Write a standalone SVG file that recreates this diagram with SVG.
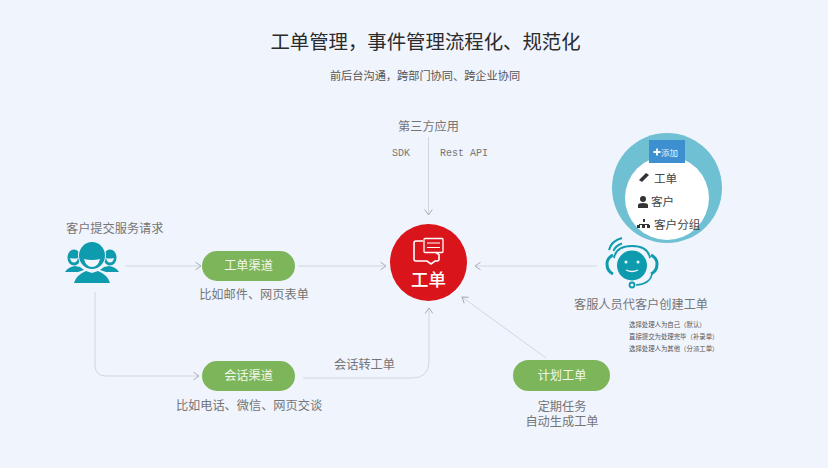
<svg xmlns="http://www.w3.org/2000/svg" width="828" height="468" viewBox="0 0 828 468">
<style>
text{font-family:"Noto Sans CJK SC","Liberation Sans",sans-serif;fill:#757575;font-size:12.2px}
.c{text-anchor:middle}
.pill{fill:#7db55b}
.pt{fill:#f2f7ec;font-size:12.2px;text-anchor:middle}
.conn{fill:none;stroke:#d2d6df;stroke-width:1}
.tiny{font-size:6.400px;fill:#555}
.teal{fill:#0e9bad}
.menu{font-size:11.600px;fill:#444}
</style>
<defs>
<marker id="arr" markerUnits="userSpaceOnUse" markerWidth="10" markerHeight="10" refX="7" refY="5" orient="auto"><path d="M1.500 1.200L7 5L1.500 8.800" fill="none" stroke="#a8acb5" stroke-width="1"/></marker>
</defs>
<rect width="828" height="468" fill="#f0f4fd"/>
<text id="title" class="c" x="425.500" y="49" style="font-size:19.400px;fill:#2b2b2b">工单管理&#xFF0C;事件管理流程化、规范化</text>
<text id="subtitle" class="c" x="425" y="80" style="font-size:11.200px;fill:#555">前后台沟通&#xFF0C;跨部门协同、跨企业协同</text>
<g id="connectors">
<path class="conn" marker-end="url(#arr)" d="M428.500 137V215"/>
<path class="conn" marker-end="url(#arr)" d="M125 266H201"/>
<path class="conn" marker-end="url(#arr)" d="M298 266H386"/>
<path class="conn" marker-end="url(#arr)" d="M95 292V365Q95 376 106 376H199"/>
<path class="conn" marker-end="url(#arr)" d="M303 378H412Q429 378 429 361V308"/>
<path class="conn" marker-end="url(#arr)" d="M597 266H475"/>
<path class="conn" marker-end="url(#arr)" d="M546 358L462 297"/>
</g>
<g id="third-party">
<text class="c" x="428.500" y="131">第三方应用</text>
<text x="392" y="156" style="font-family:'Liberation Mono',monospace;font-size:10px;fill:#777">SDK</text>
<text x="440" y="156" style="font-family:'Liberation Mono',monospace;font-size:10px;fill:#777">Rest API</text>
</g>
<g id="ticket">
<circle cx="428.500" cy="262.500" r="38.500" fill="#d9141b"/>
<path d="M423 241H416Q414 241 414 243V259Q414 261 416 261H427L431 264L435 261H437Q439 261 439 259V254" fill="none" stroke="#fff" stroke-width="1.600"/>
<rect x="424" y="238.500" width="19" height="14" rx="1" fill="#d9141b" stroke="#fff" stroke-width="1.300"/>
<path d="M427 243H440M427 247.500H440" stroke="#fff" stroke-width="1.200"/>
<path d="M435 252.500H440L437.500 255Z" fill="#fff"/>
<text class="c" x="428.500" y="286" style="font-size:17.500px;fill:#fff;font-weight:500">工单</text>
</g>
<g id="customer">
<text x="66" y="233">客户提交服务请求</text>
<g class="teal">
<ellipse cx="74" cy="257.500" rx="6.500" ry="8"/>
<ellipse cx="110" cy="257.500" rx="6.500" ry="8"/>
<path d="M65 272Q68 267 75 266L80 267L84 270L78 272Z"/>
<path d="M119 272Q116 267 109 266L104 267L100 270L106 272Z"/>
</g>
<path d="M70 258Q74 259 78 258Q77 262.500 74 262.500Q71 262.500 70 258Z" fill="#f0f4fd"/>
<path d="M106 258Q110 259 114 258Q113 262.500 110 262.500Q107 262.500 106 258Z" fill="#f0f4fd"/>
<ellipse cx="92" cy="255.500" rx="14" ry="14.500" fill="#f0f4fd"/>
<ellipse cx="92" cy="255.500" rx="13" ry="13.500" class="teal"/>
<path d="M84 259Q92 261 100 259Q98 267 92 267Q86 267 84 259Z" fill="#f0f4fd"/>
<path d="M74 283Q76 275 86 271L92 273L98 271Q108 275 110 283Z" class="teal"/>
</g>
<g id="channel-ticket">
<rect class="pill" x="202" y="251" width="93" height="30" rx="15"/>
<text class="pt" x="248.500" y="270">工单渠道</text>
<text class="c" x="254" y="299">比如邮件、网页表单</text>
</g>
<g id="channel-chat">
<rect class="pill" x="202" y="361" width="93" height="30" rx="15"/>
<text class="pt" x="248.500" y="380">会话渠道</text>
<text class="c" x="249" y="410">比如电话、微信、网页交谈</text>
</g>
<text id="chat-to-ticket" class="c" x="364.500" y="369">会话转工单</text>
<g id="scheduled">
<rect class="pill" x="513" y="360" width="97" height="31" rx="15.500"/>
<text class="pt" x="562" y="380">计划工单</text>
<text class="c" y="411"><tspan x="562">定期任务</tspan><tspan x="562" y="426">自动生成工单</tspan></text>
</g>
<g id="menu">
<circle cx="667" cy="188" r="55" fill="#6fc0d2"/>
<circle cx="667" cy="198" r="42" fill="#fff"/>
<rect x="649" y="140" width="36" height="23" fill="#3e8fcf"/>
<path d="M653.500 152H660.500M657 148.500V155.500" stroke="#fff" stroke-width="1.800"/>
<text x="661" y="156" style="font-size:8.500px;fill:#e8f3fb">添加</text>
<path d="M639 180L646 173L649 175L642 182Z" fill="#333"/>
<text class="menu" x="654" y="183">工单</text>
<circle cx="643" cy="199" r="3" fill="#333"/><path d="M638 208V205Q638 203 643 203Q648 203 648 205V208Z" fill="#333"/>
<text class="menu" x="651" y="206">客户</text>
<path d="M643 219h2v3h-2ZM639 224h10v1h1v3h-3v-3h-2v3h-3v-3h-2v3h-3v-3h2Z" fill="#333"/>
<text class="menu" x="654" y="229">客户分组</text>
</g>
<g id="agent">
<circle cx="632" cy="265.500" r="15" class="teal"/>
<circle cx="626" cy="262" r="1.500" fill="#f0f4fd"/><circle cx="638" cy="262" r="1.500" fill="#f0f4fd"/>
<path d="M626 270Q632 273 638 270" fill="none" stroke="#f0f4fd" stroke-width="1.300"/>
<path d="M613 274Q607 271 607 264Q607 258 613 255" fill="none" stroke="#0e9bad" stroke-width="3"/>
<path d="M651 274Q657 271 657 264Q657 258 651 255" fill="none" stroke="#0e9bad" stroke-width="3"/>
<path d="M614 258Q616 246 632 246Q648 246 650 258" fill="none" stroke="#0e9bad" stroke-width="1.800"/>
<path d="M652 274Q650 284 636 285" fill="none" stroke="#0e9bad" stroke-width="1.500"/>
<circle cx="632" cy="285" r="2.500" fill="none" stroke="#0e9bad" stroke-width="1.800"/>
<path d="M609 250Q611 241 622 238M613.500 251Q615 246 622 243.500" fill="none" stroke="#0e9bad" stroke-width="2"/>
<text x="574" y="309">客服人员代客户创建工单</text>
<text class="tiny" x="629" y="327">选择处理人为自己&#xFF08;默认&#xFF09;</text>
<text class="tiny" x="629" y="339">直接提交为处理完毕&#xFF08;补录单&#xFF09;</text>
<text class="tiny" x="629" y="351">选择处理人为其他&#xFF08;分派工单&#xFF09;</text>
</g>
</svg>
